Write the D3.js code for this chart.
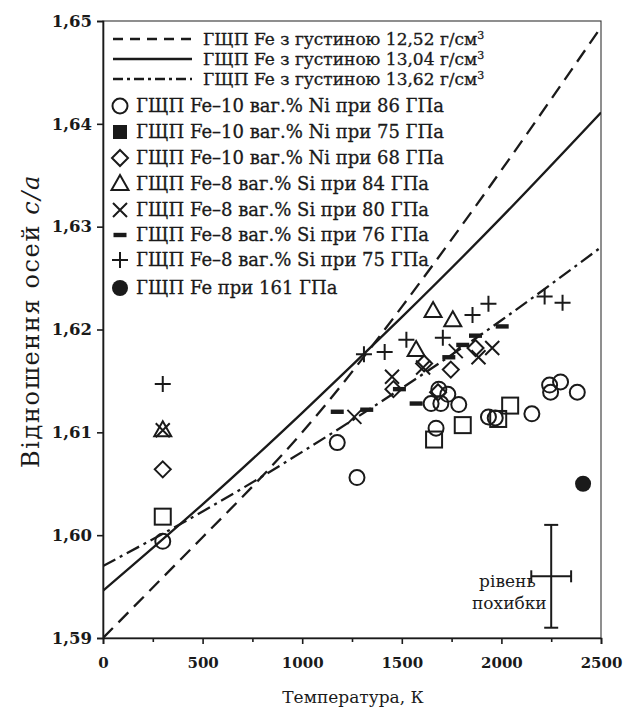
<!DOCTYPE html>
<html><head><meta charset="utf-8">
<script src="https://cdn.jsdelivr.net/npm/d3@7"></script>
<style>body{margin:0;background:#fff}svg{display:block}</style>
</head><body>
<svg id="c" width="630" height="711"></svg>
<script>
// ---- data ----
const lineT = [0, 500, 1000, 1500, 2000, 2500];
const rho1252 = [1.5900, 1.5998, 1.6100, 1.6222, 1.6355, 1.6494];
const rho1304 = [1.5946, 1.6030, 1.6119, 1.6212, 1.6309, 1.6411];
const rho1362 = [1.5970, 1.6023, 1.6081, 1.6143, 1.6209, 1.6280];

const ni86T = [300, 1176, 1275, 1647, 1696, 1786, 1672, 1935, 1969, 2153, 2242, 2297, 2247, 2381, 1686, 1731];
const ni86V = [1.5994, 1.6090, 1.6056, 1.6128, 1.6128, 1.6127, 1.6104, 1.6115, 1.6114, 1.6118, 1.6146, 1.6149, 1.6139, 1.6139, 1.6142, 1.6137];
const ni75T = [300, 1662, 1806, 1984, 2044];
const ni75V = [1.6018, 1.6093, 1.6107, 1.6113, 1.6126];
const ni68T = [300, 1458, 1612, 1746, 1682, 1870];
const ni68V = [1.6064, 1.6142, 1.6167, 1.6161, 1.6139, 1.6182];
const si84T = [300, 1657, 1756, 1572];
const si84V = [1.6102, 1.6218, 1.6209, 1.6180];
const si80T = [300, 1262, 1451, 1607, 1771, 1885, 1954];
const si80V = [1.6102, 1.6115, 1.6154, 1.6163, 1.6179, 1.6173, 1.6182];
const si76T = [1176, 1324, 1488, 1572, 1736, 1806, 1870, 2004];
const si76V = [1.6120, 1.6122, 1.6142, 1.6128, 1.6173, 1.6185, 1.6194, 1.6203];
const si75T = [300, 1310, 1414, 1523, 1706, 1855, 1935, 2217, 2307];
const si75V = [1.6147, 1.6176, 1.6178, 1.6190, 1.6192, 1.6214, 1.6225, 1.6232, 1.6226];
const fe161T = [2410];
const fe161V = [1.6050];

const errT = 2250, errV = 1.5960, errDT = 100, errDV = 0.005;

const xTicks = [0, 500, 1000, 1500, 2000, 2500];
const xMinor = [250, 750, 1250, 1750, 2250];
const yTicks = [1.59, 1.60, 1.61, 1.62, 1.63, 1.64, 1.65];

const lineLabels = ["ГЩП Fe з густиною 12,52 г/см", "ГЩП Fe з густиною 13,04 г/см", "ГЩП Fe з густиною 13,62 г/см"];
const markerLabels = [
  "ГЩП Fe–10 ваг.% Ni при 86 ГПа",
  "ГЩП Fe–10 ваг.% Ni при 75 ГПа",
  "ГЩП Fe–10 ваг.% Ni при 68 ГПа",
  "ГЩП Fe–8 ваг.% Si при 84 ГПа",
  "ГЩП Fe–8 ваг.% Si при 80 ГПа",
  "ГЩП Fe–8 ваг.% Si при 76 ГПа",
  "ГЩП Fe–8 ваг.% Si при 75 ГПа",
  "ГЩП Fe при 161 ГПа"
];

// ---- drawing ----
const svg = d3.select("#c");
const FONT = "'DejaVu Serif', serif";
const INK = "#1a1a1a";
const x = d3.scaleLinear().domain([0, 2500]).range([103, 601]);
const y = d3.scaleLinear().domain([1.59, 1.65]).range([638, 21]);
const fmt = d => d3.format(".2f")(d).replace(".", ",");

// frame
svg.append("rect").attr("x", x(0)).attr("y", y(1.65))
  .attr("width", x(2500) - x(0)).attr("height", y(1.59) - y(1.65))
  .attr("fill", "none").attr("stroke", "#333").attr("stroke-width", 1.1);

// axes
svg.append("g").attr("transform", `translate(0,${y(1.59)})`)
  .call(d3.axisBottom(x).tickValues(xTicks).tickFormat(d3.format("d")).tickSize(6).tickPadding(13))
  .selectAll(".tick text").attr("font-size", 15);
svg.append("g").attr("transform", `translate(0,${y(1.59)})`)
  .call(d3.axisBottom(x).tickValues(xMinor).tickFormat("").tickSize(4))
  .select(".domain").remove();
svg.append("g").attr("transform", `translate(${x(0)},0)`)
  .call(d3.axisLeft(y).tickValues(yTicks).tickFormat(fmt).tickSize(6).tickPadding(5))
  .selectAll(".tick text").attr("font-size", 16.5);
svg.selectAll(".tick line").attr("stroke", INK).attr("stroke-width", 1.6);
svg.selectAll(".domain").attr("stroke", INK).attr("stroke-width", 1.6);
svg.selectAll(".tick text").attr("font-family", FONT)
  .attr("font-weight", "bold").attr("fill", INK);

// axis titles
svg.append("text").attr("x", 353).attr("y", 703).attr("text-anchor", "middle")
  .attr("font-family", FONT).attr("font-size", 17).attr("fill", INK).text("Температура, К");
const yt = svg.append("text").attr("transform", "translate(39,321) rotate(-90)")
  .attr("text-anchor", "middle").attr("font-family", FONT)
  .attr("font-size", 24).attr("letter-spacing", 1.6).attr("fill", INK);
yt.append("tspan").text("Відношення осей ");
yt.append("tspan").attr("font-style", "italic").text("c/a");

// curves
const curves = [
  {v: rho1252, dash: "14,8", ldash: "10,7"},
  {v: rho1304, dash: null, ldash: null},
  {v: rho1362, dash: "14,5,3,5", ldash: "10,4,3,4"}
];
const lineGen = d3.line().x(d => x(d[0])).y(d => y(d[1])).curve(d3.curveNatural);
svg.append("clipPath").attr("id", "pc").append("rect")
  .attr("x", x(0)).attr("y", y(1.65)).attr("width", x(2500) - x(0)).attr("height", y(1.59) - y(1.65));
curves.forEach(c => {
  svg.append("path").attr("d", lineGen(lineT.map((t, i) => [t, c.v[i]])))
    .attr("fill", "none").attr("stroke", INK).attr("stroke-width", 2.3)
    .attr("stroke-dasharray", c.dash).attr("clip-path", "url(#pc)");
});

// marker symbols
function drawMarker(g, type, cx, cy) {
  const s = g.append("g").attr("transform", `translate(${cx},${cy})`);
  const st = {fill: "none", stroke: INK, "stroke-width": 2};
  const apply = (el, o) => { Object.entries(o).forEach(([k, v]) => el.attr(k, v)); return el; };
  if (type === "circle") apply(s.append("circle").attr("r", 7.5), st);
  else if (type === "square") apply(s.append("rect").attr("x", -8).attr("y", -8).attr("width", 16).attr("height", 16), st);
  else if (type === "squareFilled") s.append("rect").attr("x", -7).attr("y", -7).attr("width", 14).attr("height", 14).attr("fill", INK);
  else if (type === "diamond") apply(s.append("path").attr("d", "M0,-8L8,0L0,8L-8,0Z"), st);
  else if (type === "triangle") apply(s.append("path").attr("d", "M0,-9L8.5,6L-8.5,6Z"), st);
  else if (type === "x") apply(s.append("path").attr("d", "M-7,-7L7,7M-7,7L7,-7"), st);
  else if (type === "dash") s.append("rect").attr("x", -6.5).attr("y", -2.2).attr("width", 13).attr("height", 4.4).attr("fill", INK);
  else if (type === "plus") apply(s.append("path").attr("d", "M-8,0L8,0M0,-8L0,8"), st);
  else if (type === "dot") s.append("circle").attr("r", 8).attr("fill", INK);
}

const series = [
  {T: ni86T, V: ni86V, type: "circle"},
  {T: ni75T, V: ni75V, type: "square"},
  {T: ni68T, V: ni68V, type: "diamond"},
  {T: si84T, V: si84V, type: "triangle"},
  {T: si80T, V: si80V, type: "x"},
  {T: si76T, V: si76V, type: "dash"},
  {T: si75T, V: si75V, type: "plus"},
  {T: fe161T, V: fe161V, type: "dot"}
];
const pts = svg.append("g");
series.forEach(s => s.T.forEach((t, i) => drawMarker(pts, s.type, x(t), y(s.V[i]))));

// error bar
const eb = svg.append("g").attr("stroke", INK).attr("stroke-width", 2);
eb.append("line").attr("x1", x(errT)).attr("x2", x(errT)).attr("y1", y(errV - errDV)).attr("y2", y(errV + errDV));
eb.append("line").attr("x1", x(errT) - 7).attr("x2", x(errT) + 7).attr("y1", y(errV - errDV)).attr("y2", y(errV - errDV));
eb.append("line").attr("x1", x(errT) - 7).attr("x2", x(errT) + 7).attr("y1", y(errV + errDV)).attr("y2", y(errV + errDV));
eb.append("line").attr("x1", x(errT - errDT)).attr("x2", x(errT + errDT)).attr("y1", y(errV)).attr("y2", y(errV));
eb.append("line").attr("x1", x(errT - errDT)).attr("x2", x(errT - errDT)).attr("y1", y(errV) - 6).attr("y2", y(errV) + 6);
eb.append("line").attr("x1", x(errT + errDT)).attr("x2", x(errT + errDT)).attr("y1", y(errV) - 6).attr("y2", y(errV) + 6);
svg.append("text").attr("x", x(2030)).attr("y", y(1.5950)).attr("text-anchor", "middle")
  .attr("font-family", FONT).attr("font-size", 17).attr("fill", INK).text("рівень");
svg.append("text").attr("x", x(2040)).attr("y", y(1.5928)).attr("text-anchor", "middle")
  .attr("font-family", FONT).attr("font-size", 17).attr("fill", INK).text("похибки");

// legend
const leg = svg.append("g");
const lineRows = [39, 59, 79];
curves.forEach((c, i) => {
  leg.append("line").attr("x1", 113).attr("x2", 192).attr("y1", lineRows[i]).attr("y2", lineRows[i])
    .attr("stroke", INK).attr("stroke-width", 2.3).attr("stroke-dasharray", c.ldash);
  const t = leg.append("text").attr("x", 203).attr("y", lineRows[i] + 6)
    .attr("font-family", FONT).attr("font-size", 17).attr("fill", INK)
    .attr("stroke", INK).attr("stroke-width", 0.3).text(lineLabels[i]);
  t.append("tspan").attr("dy", -6).attr("font-size", 11).text("3");
});
const markRows = [106, 132, 158, 184, 210, 235, 260, 288];
const legendTypes = ["circle", "squareFilled", "diamond", "triangle", "x", "dash", "plus", "dot"];
markRows.forEach((ry, i) => {
  drawMarker(leg, legendTypes[i], 120, ry);
  leg.append("text").attr("x", 136).attr("y", ry + 6)
    .attr("font-family", FONT).attr("font-size", 18).attr("fill", INK)
    .attr("stroke", INK).attr("stroke-width", 0.3).text(markerLabels[i]);
});
</script>
</body></html>
